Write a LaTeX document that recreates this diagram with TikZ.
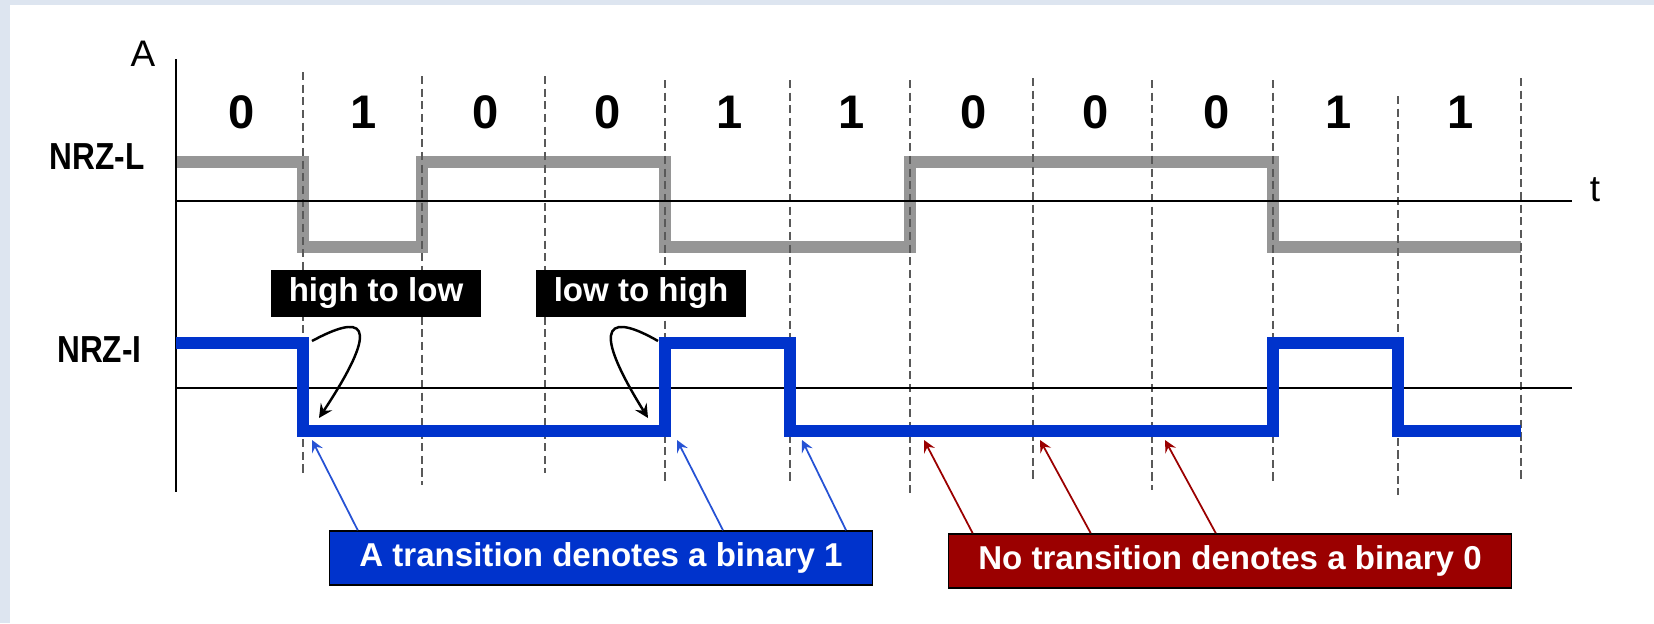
\documentclass[tikz,border=0pt]{standalone}
\usepackage{fontspec}
\setmainfont{Liberation Sans}
\newfontfamily\narrowsans[FakeStretch=0.84]{Liberation Sans}
\usetikzlibrary{positioning, arrows}
\definecolor{panel}{RGB}{221,229,240}
\definecolor{levelgray}{RGB}{150,150,150}
\definecolor{levelblue}{RGB}{0,51,204}
\definecolor{notered}{RGB}{155,0,0}
\tikzset{
x=0.01cm, y=-0.01cm, % one unit is one pixel, y runs downwards
>=stealth, % arrow heads
node distance=1.218cm, % width of one bit cell
bitval/.style={font=\fontsize{13.4}{15}\selectfont\bfseries}, % the bits on top
code/.style={anchor=east, font=\narrowsans\fontsize{10.7}{12}\selectfont\bfseries}, % NRZ-L, NRZ-I
axislabel/.style={font=\fontsize{10.5}{12}\selectfont},
cell/.style={dash pattern=on 2.3pt off 1.3pt, line width=0.6pt, black!65},
nrzl/.style={levelgray, line width=3.5pt, line join=miter},
nrzi/.style={levelblue, line width=3.4pt, line join=miter},
tag/.style={fill=black, text=white, minimum width=2.09cm, minimum height=0.47cm,
  inner sep=0pt, font=\fontsize{9.4}{11}\selectfont\bfseries},
note/.style={draw=black, line width=0.4pt, text=white, inner xsep=0.3cm,
  minimum height=0.51cm, font=\fontsize{9.4}{11}\selectfont\bfseries},
}
\begin{document}
\begin{tikzpicture}
        % page and white panel
        \fill[panel] (0,0) rectangle (1654,623);
        \fill[white] (10,5) rectangle (1654,623);
        \useasboundingbox (0,0) rectangle (1654,623);

        % bit values
        \node[bitval] (b1) at (242,112) {0};
        \node[bitval, right of=b1] (b2) {1};
        \node[bitval, right of=b2] (b3) {0};
        \node[bitval, right of=b3] (b4) {0};
        \node[bitval, right of=b4] (b5) {1};
        \node[bitval, right of=b5] (b6) {1};
        \node[bitval, right of=b6] (b7) {0};
        \node[bitval, right of=b7] (b8) {0};
        \node[bitval, right of=b8] (b9) {0};
        \node[bitval, right of=b9] (b10) {1};
        \node[bitval, right of=b10] (b11) {1};

        \node[code] (nrzl) at (157,157) {NRZ-L};
        \node[code] (nrzi) at (154,350) {NRZ-I};
        \node[axislabel] (amp) at (143,54) {A};
        \node[axislabel] (time) at (1595,190) {t};

        % NRZ-L signal
        \draw[nrzl] (176,162) -| (303,247) -| (422,162) -| (665,247) -| (910,162)
            -| (1273,247) -- (1521,247);

        % bit cell borders
        \draw[cell] (303,72) -- (303,473) (422,76) -- (422,485) (545,76) -- (545,473)
            (665,80) -- (665,482) (790,80) -- (790,482) (910,80) -- (910,493)
            (1033,78) -- (1033,482) (1152,80) -- (1152,490) (1273,80) -- (1273,482)
            (1398,96) -- (1398,495) (1521,78) -- (1521,482);

        % axes
        \draw[line width=0.5pt] (176,59) -- (176,492);
        \draw[line width=0.5pt] (176,201) -- (1572,201);
        \draw[line width=0.5pt] (176,388) -- (1572,388);

        % NRZ-I signal
        \draw[nrzi] (176,343) -| (303,431) -| (665,343) -| (790,431) -| (1273,343)
            -| (1398,431) -- (1521,431);

        % black tags with curved arrows
        \node[tag] (hightolow) at (376,293) {high to low};
        \node[tag] (lowtohigh) at (641,293) {low to high};
        \coordinate (hlfrom) at (312,341);
        \coordinate (hlto) at (319,418);
        \coordinate (lhfrom) at (658,341);
        \coordinate (lhto) at (648,418);
        \draw[->, line width=0.7pt] (hlfrom) .. controls +(48,-26) and +(66,-100) .. (hlto);
        \draw[->, line width=0.7pt] (lhfrom) .. controls +(-45,-26) and +(-62,-100) .. (lhto);

        % notes below
        \node[note, fill=levelblue] (one) at (601,558) {A transition denotes a binary 1};
        \node[note, fill=notered] (zero) at (1230,561) {No transition denotes a binary 0};

        \coordinate (one1) at (312,440);
        \coordinate (one2) at (677,440);
        \coordinate (one3) at (802,440);
        \coordinate (zero1) at (924,440);
        \coordinate (zero2) at (1040,440);
        \coordinate (zero3) at (1165,440);

        \draw[->, levelblue!85!white, line width=0.5pt] ([xshift=0.29cm]one.north west) -- (one1);
        \draw[->, levelblue!85!white, line width=0.5pt] ([xshift=3.94cm]one.north west) -- (one2);
        \draw[->, levelblue!85!white, line width=0.5pt] ([xshift=5.17cm]one.north west) -- (one3);
        \draw[->, notered, line width=0.5pt] ([xshift=0.25cm]zero.north west) -- (zero1);
        \draw[->, notered, line width=0.5pt] ([xshift=1.43cm]zero.north west) -- (zero2);
        \draw[->, notered, line width=0.5pt] ([xshift=2.68cm]zero.north west) -- (zero3);
    \end{tikzpicture}
\end{document}
